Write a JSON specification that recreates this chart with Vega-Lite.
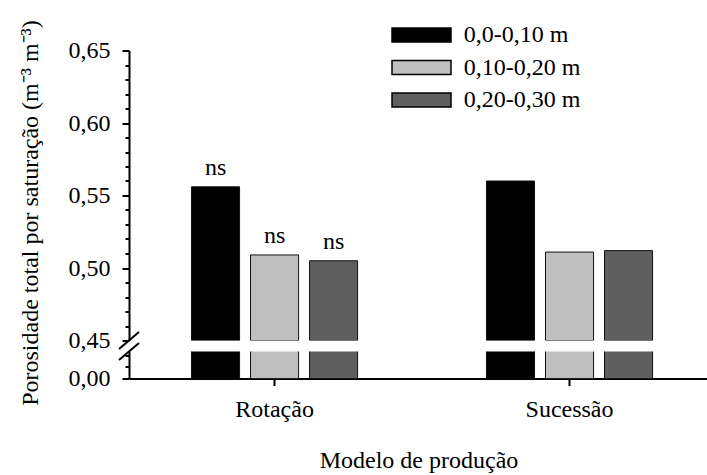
{
  "$schema": "https://vega.github.io/schema/vega-lite/v6.json",
  "padding": {"left": 17, "top": 2.5, "right": 0, "bottom": 0},
  "bounds": "flush",
  "spacing": 11,
  "config": {
    "font": "Times New Roman",
    "locale": {"number": {"decimal": ",", "thousands": ".", "grouping": [3], "currency": ["", ""]}},
    "view": {"stroke": null},
    "axis": {
      "labelFont": "Times New Roman",
      "labelFontSize": 24,
      "labelFontWeight": "normal",
      "labelColor": "#000",
      "labelOverlap": false,
      "titleFont": "Times New Roman",
      "titleFontSize": 24,
      "titleFontWeight": "normal",
      "titleColor": "#000",
      "domainColor": "#000",
      "domainWidth": 2,
      "tickColor": "#000",
      "tickWidth": 2,
      "grid": false
    },
    "legend": {
      "labelFont": "Times New Roman",
      "labelFontSize": 24,
      "labelFontWeight": "normal",
      "labelColor": "#000"
    }
  },
  "datasets": {
    "porosity": [
      {"modelo": "Rotação", "camada": "0,0-0,10 m", "valor": 0.556, "sig": "ns"},
      {"modelo": "Rotação", "camada": "0,10-0,20 m", "valor": 0.509, "sig": "ns"},
      {"modelo": "Rotação", "camada": "0,20-0,30 m", "valor": 0.505, "sig": "ns"},
      {"modelo": "Sucessão", "camada": "0,0-0,10 m", "valor": 0.560, "sig": ""},
      {"modelo": "Sucessão", "camada": "0,10-0,20 m", "valor": 0.511, "sig": ""},
      {"modelo": "Sucessão", "camada": "0,20-0,30 m", "valor": 0.512, "sig": ""}
    ],
    "breaks": [{"pos": "top"}]
  },
  "resolve": {"legend": {"fill": "independent"}},
  "vconcat": [
    {
      "width": 579,
      "height": 290,
      "layer": [
        {
          "data": {"name": "porosity"},
          "mark": {"type": "bar", "clip": true, "stroke": "#111", "strokeWidth": 1},
          "encoding": {
            "x": {
              "field": "modelo", "type": "nominal", "sort": ["Rotação", "Sucessão"],
              "scale": {"paddingInner": 0.437, "paddingOuter": 0.2, "align": 0.53},
              "axis": null
            },
            "xOffset": {
              "field": "camada", "type": "nominal",
              "sort": ["0,0-0,10 m", "0,10-0,20 m", "0,20-0,30 m"],
              "scale": {"paddingInner": 0.186, "paddingOuter": 0}
            },
            "y": {
              "field": "valor", "type": "quantitative",
              "scale": {"domain": [0.45, 0.65], "zero": false, "nice": false},
              "axis": {
                "values": [0.45, 0.46, 0.47, 0.48, 0.49, 0.5, 0.51, 0.52, 0.53, 0.54, 0.55, 0.56, 0.57, 0.58, 0.59, 0.6, 0.61, 0.62, 0.63, 0.64, 0.65],
                "tickCount": 100,
                "format": ".2f",
                "labelOverlap": false,
                "labelExpr": "round(datum.value * 100) % 5 === 0 ? datum.label : ''",
                "tickSize": {"condition": {"test": "round(datum.value * 100) % 5 === 0", "value": 7}, "value": 4},
                "labelPadding": 12,
                "title": "Porosidade total por saturação (m⁻³ m⁻³)",
                "titleY": 162,
                "titleX": -92,
                "titleAngle": -90,
                "titleBaseline": "alphabetic",
                "titleAlign": "center"
              }
            },
            "y2": {"datum": 0.45},
            "fill": {
              "field": "camada", "type": "nominal",
              "sort": ["0,0-0,10 m", "0,10-0,20 m", "0,20-0,30 m"],
              "scale": {"range": ["#000000", "#bfbfbf", "#5f5f5f"]},
              "legend": {
                "title": null,
                "orient": "none",
                "legendX": 260.5,
                "legendY": -47.5,
                "padding": 16.5,
                "symbolType": "M-2,-0.48H2V0.48H-2Z",
                "symbolSize": 870,
                "symbolStrokeColor": "#000",
                "symbolStrokeWidth": 1.5,
                "symbolOpacity": 1,
                "labelOffset": 26.75,
                "rowPadding": 4.5
              }
            }
          }
        },
        {
          "data": {"name": "porosity"},
          "transform": [{"filter": "datum.sig !== ''"}],
          "mark": {"type": "text", "font": "Times New Roman", "fontSize": 24, "baseline": "alphabetic", "align": "center", "dy": -12, "color": "#000"},
          "encoding": {
            "x": {"field": "modelo", "type": "nominal", "sort": ["Rotação", "Sucessão"]},
            "xOffset": {"field": "camada", "type": "nominal", "sort": ["0,0-0,10 m", "0,10-0,20 m", "0,20-0,30 m"]},
            "y": {"field": "valor", "type": "quantitative"},
            "text": {"field": "sig"}
          }
        },
        {
          "data": {"name": "breaks"},
          "mark": {"type": "point", "shape": "M-1,0.85L1,-0.85", "size": 400, "stroke": "#000", "strokeWidth": 2, "opacity": 1, "filled": false},
          "encoding": {
            "x": {"value": 0},
            "y": {"datum": 0.45}
          }
        }
      ]
    },
    {
      "width": 579,
      "height": 27,
      "layer": [
        {
          "data": {"name": "porosity"},
          "mark": {"type": "bar", "clip": true, "stroke": "#111", "strokeWidth": 1},
          "encoding": {
            "x": {
              "field": "modelo", "type": "nominal", "sort": ["Rotação", "Sucessão"],
              "scale": {"paddingInner": 0.437, "paddingOuter": 0.2, "align": 0.53},
              "axis": {
                "title": "Modelo de produção",
                "labelAngle": 0,
                "tickSize": 7,
                "labelPadding": 12,
                "titlePadding": 27
              }
            },
            "xOffset": {
              "field": "camada", "type": "nominal",
              "sort": ["0,0-0,10 m", "0,10-0,20 m", "0,20-0,30 m"],
              "scale": {"paddingInner": 0.186, "paddingOuter": 0}
            },
            "y": {
              "field": "valor", "type": "quantitative",
              "scale": {"domain": [0, 0.023], "nice": false},
              "axis": {
                "values": [0, 0.01, 0.02],
                "tickCount": 100,
                "format": ".2f",
                "labelOverlap": false,
                "labelExpr": "datum.value === 0 ? datum.label : ''",
                "tickSize": {"condition": {"test": "datum.value === 0", "value": 7}, "value": 4},
                "labelPadding": 12,
                "title": null
              }
            },
            "fill": {
              "field": "camada", "type": "nominal",
              "sort": ["0,0-0,10 m", "0,10-0,20 m", "0,20-0,30 m"],
              "scale": {"range": ["#000000", "#bfbfbf", "#5f5f5f"]},
              "legend": null
            }
          }
        },
        {
          "data": {"name": "breaks"},
          "mark": {"type": "point", "shape": "M-1,0.85L1,-0.85", "size": 400, "stroke": "#000", "strokeWidth": 2, "opacity": 1, "filled": false},
          "encoding": {
            "x": {"value": 0},
            "y": {"datum": 0.023}
          }
        }
      ]
    }
  ]
}
